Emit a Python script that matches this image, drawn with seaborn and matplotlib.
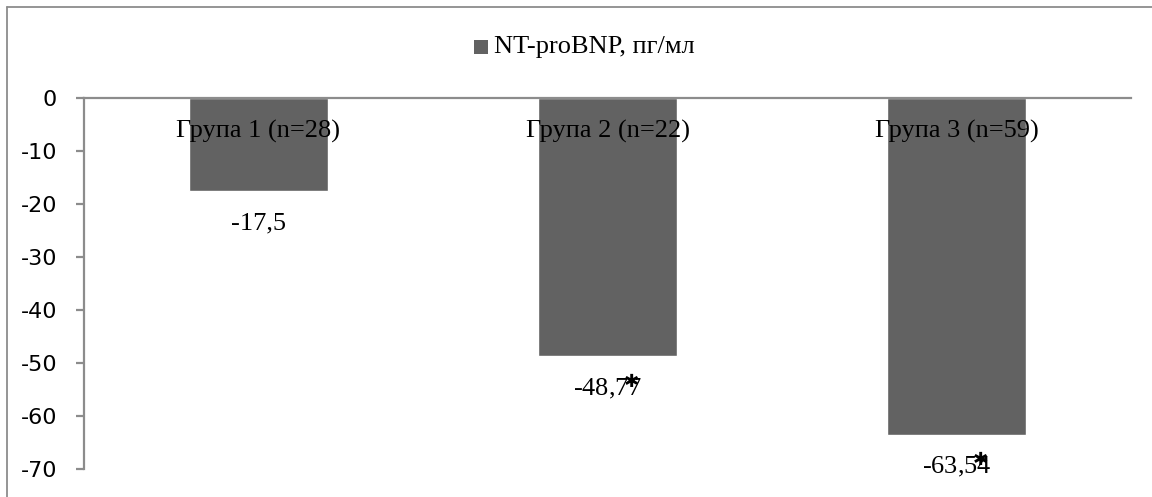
import matplotlib
matplotlib.use("Agg")
import matplotlib.pyplot as plt
import seaborn as sns
import pandas as pd
from matplotlib.lines import Line2D
from matplotlib.patches import Rectangle

categories = ["Група 1 (n=28)", "Група 2 (n=22)", "Група 3 (n=59)"]
values = [-17.5, -48.77, -63.54]
value_labels = ["-17,5", "-48,77", "-63,54"]
significant = [False, True, True]
series_name = "NT-proBNP, пг/мл"
yticks = [0, -10, -20, -30, -40, -50, -60, -70]

sns.set_theme(style="white")
plt.rcParams["font.family"] = ["DejaVu Sans"]
plt.rcParams["mathtext.fontset"] = "custom"
plt.rcParams["mathtext.rm"] = "Liberation Serif"
plt.rcParams["mathtext.it"] = "Liberation Serif:italic"
plt.rcParams["mathtext.bf"] = "Liberation Serif:bold"
plt.rcParams["mathtext.sf"] = "DejaVu Sans"
plt.rcParams["mathtext.fallback"] = "stixsans"

df = pd.DataFrame({"cat": categories, "val": values, "series": series_name})

W, H = 1152, 497
PX = 72 / 100  # points per pixel
fig = plt.figure(figsize=(W / 100, H / 100), dpi=100)
ax = fig.add_axes([84 / W, 1 - 469 / H, (1131 - 84) / W, (469 - 98) / H])

bar_color = "#626262"
sns.barplot(data=df, x="cat", y="val", hue="series", palette=[bar_color],
            width=0.4, ax=ax, legend=False, saturation=1)

ax.set_ylim(-70, 0)
ax.set_xlim(-0.5, 2.5)
ax.set_yticks(yticks)
ax.set_yticklabels([str(t) for t in yticks], fontsize=16, color="#000000")
ax.set_xticks([])
ax.set_xlabel("")
ax.set_ylabel("")

spine_c = "#8c8c8c"
for s in ["right", "bottom"]:
    ax.spines[s].set_visible(False)
for s in ["top", "left"]:
    ax.spines[s].set_color(spine_c)
    ax.spines[s].set_linewidth(1.6)
ax.tick_params(axis="y", which="both", left=True, length=8 * PX, width=1.6,
               color=spine_c, pad=19 * PX)

serif = ["Liberation Serif", "DejaVu Serif"]
for i, (cat, v, lab, sig) in enumerate(zip(categories, values, value_labels, significant)):
    ax.annotate(cat, xy=(i, 0), xytext=(0, -40 * PX), textcoords="offset points",
                ha="center", va="baseline", fontsize=19, family=serif,
                color="#000000")
    if sig:
        text = (lab[:-1] + r"$\mathregular{" + lab[-1]
                + r"}^{\!\!\!\!\!\!\!\!\mathsf{✱}}$")
    else:
        text = lab
    ax.annotate(text, xy=(i, v), xytext=(0, -39 * PX), textcoords="offset points",
                ha="center", va="baseline", fontsize=19, family=serif,
                color="#000000")

# legend
fig.patches.append(Rectangle((474 / W, 1 - 54 / H), 14 / W, 14 / H,
                             transform=fig.transFigure, facecolor=bar_color,
                             edgecolor="none"))
fig.text(494 / W, 1 - 47 / H, series_name, ha="left", va="center", fontsize=19,
         family=serif, color="#000000")

# outer chart border (top and left visible)
border_c = "#8c8c8c"
fig.lines.append(Line2D([7 / W, 7 / W], [0, 1 - 7 / H], transform=fig.transFigure,
                        color=border_c, linewidth=1.3))
fig.lines.append(Line2D([7 / W, 1], [1 - 7 / H, 1 - 7 / H], transform=fig.transFigure,
                        color=border_c, linewidth=1.3))

fig.savefig("out.png", dpi=100)
